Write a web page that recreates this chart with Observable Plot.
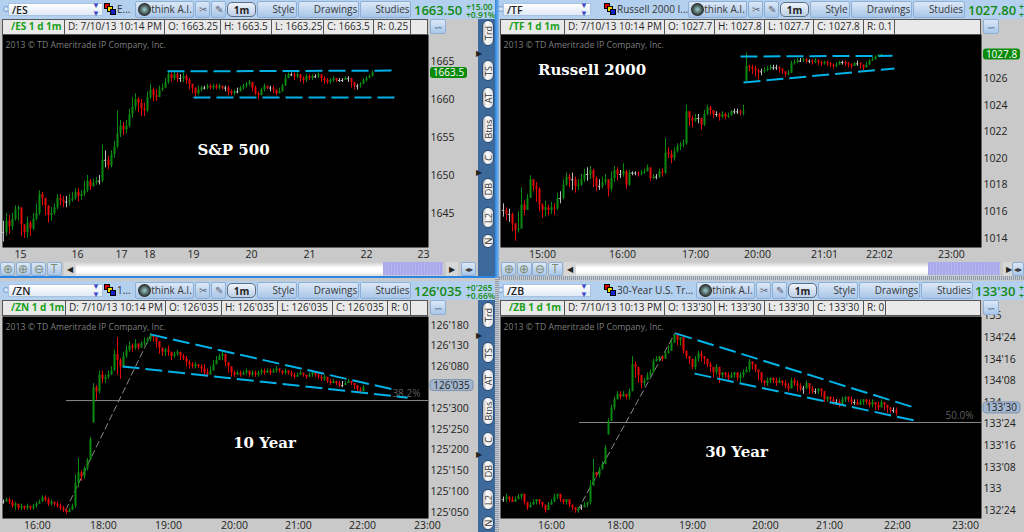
<!DOCTYPE html>
<html><head><meta charset="utf-8">
<script src="https://cdn.jsdelivr.net/npm/d3@7"></script>
<script src="https://cdn.jsdelivr.net/npm/@observablehq/plot@0.6"></script>
<style>
html,body{margin:0;padding:0;background:#c9c9c9;overflow:hidden}
#root{position:relative;width:1024px;height:532px;overflow:hidden;background:#c9c9c9;font-family:"Open Sans",sans-serif;color:#222}
#root div{position:absolute;box-sizing:border-box;white-space:nowrap}
#root svg{position:absolute}
.btn{background:linear-gradient(#dbe8f7,#a9c6e8);border:1px solid #8fb0d4;border-radius:2px;font-size:10px;color:#3a3a3a;line-height:15px;text-align:center}
.cell{background:#e9e9e9;border:1px solid #555;border-left:none;font-size:10px;line-height:13px;padding-left:3px;color:#2a2a2a;overflow:hidden}
.pill{background:linear-gradient(90deg,#bbb,#fff 40%,#ddd);border-radius:6px;font-size:9px;color:#333;text-align:center;border:1px solid #2c4d75}
.pill span{display:block;position:absolute;left:50%;top:50%;transform:translate(-50%,-50%) rotate(-90deg)}
</style></head><body><div id="root"></div>
<script>
// ---------- /ES  (S&P 500) : 3-minute bars ----------
const es_close=[1642.5,1644,1643.25,1644.25,1645.5,1645.75,1643.5,1642.5,1643.75,1643,
1644.25,1645,1647.5,1647,1646,1644.75,1645,1645.75,1647,1646.75,
1646.5,1646.5,1646.75,1647,1647.75,1647.25,1647.5,1648,1649.25,1648.5,
1649,1649.25,1649.25,1652,1652,1651.25,1652.75,1653.75,1655.5,1656.5,
1656,1656.5,1658,1659,1660,1659.5,1658.75,1658.5,1660.25,1661.25,
1660.5,1660.25,1661.25,1661.5,1662.25,1663.25,1662.75,1663.25,1662.75,1662.75,
1663,1662.5,1662,1661.5,1660.75,1661.25,1661.5,1661.5,1661.75,1661.5,
1661.75,1661.5,1661.75,1661.5,1661.5,1661,1660.75,1661,1661,1661.5,
1661.75,1662,1662.25,1661.5,1660.75,1660.5,1661.25,1661.75,1661.5,1661.5,
1661.25,1660.75,1661,1661.75,1662.75,1663.25,1663.25,1663,1663.25,1662.75,
1662.5,1663,1662.75,1663,1663,1663.25,1662.75,1662.5,1662.25,1662.5,
1662.75,1662.5,1662.5,1662.5,1662.75,1662.75,1662.25,1661.75,1661.75,1662,
1662.5,1662.75,1663,1663.5];
const es_high=[1644,1645,1644.75,1645,1646,1646,1645.25,1643.5,1644.5,1644,
1645,1646.25,1648,1647.75,1647,1646,1645.75,1646.25,1647.5,1647.5,
1647.25,1647.25,1647.5,1647.75,1648.25,1648.25,1648,1649.25,1650,1649.5,
1649.5,1649.75,1650,1654,1653.25,1652.5,1653.25,1654.5,1658.5,1657.25,
1657,1657.25,1658.75,1660.25,1660.75,1660.25,1660,1659.5,1661,1662,
1661.5,1661.25,1661.75,1662,1662.75,1663.75,1663.5,1663.75,1663.5,1663.25,
1663.5,1663.25,1662.75,1662,1661.5,1661.75,1661.75,1661.75,1662,1662,
1662,1662,1662,1661.75,1661.75,1661.75,1661.25,1661.25,1661.5,1661.75,
1662,1662.25,1662.5,1662.25,1661.75,1661,1661.5,1662,1661.75,1661.75,
1661.75,1661.25,1661.5,1662,1663.25,1663.5,1663.5,1663.5,1663.5,1663.25,
1663,1663.25,1663.25,1663.25,1663.25,1663.5,1663.25,1663,1662.75,1662.75,
1663,1662.75,1662.75,1662.75,1663,1663,1662.75,1662.25,1662,1662.25,
1662.75,1663,1663.25,1663.75];
const es_low=[1641.25,1642,1642.25,1642.75,1644,1644,1642,1641.75,1641.75,1642,
1642.75,1644,1644.75,1646,1644.75,1643.75,1644,1644.75,1645.5,1646,
1645.75,1645.75,1646,1646.5,1646.75,1646.5,1646.75,1647.25,1647.75,1648,
1648.5,1648.75,1648.75,1649,1651,1650.75,1651,1652.25,1653.5,1655,
1655.25,1655.5,1656.25,1657.5,1658.5,1658.25,1657.75,1657.75,1658.25,1660,
1659.75,1659.75,1660.25,1661,1661.5,1662,1662.25,1662.5,1662.25,1662.25,
1662.25,1662,1661.25,1660.75,1660,1660.5,1661,1661.25,1661.25,1661.25,
1661.25,1661.25,1661.25,1661.25,1661,1660.5,1660.5,1660.5,1660.75,1661,
1661.25,1661.5,1661.75,1661,1660.5,1660,1660.5,1661,1661.25,1661,
1660.75,1660.5,1660.75,1661,1661.75,1662.75,1663,1662.5,1662.75,1662.25,
1662,1662.25,1662.5,1662.5,1662.75,1662.75,1662.25,1662,1662,1662,
1662.25,1662.25,1662.25,1662.25,1662.5,1662.25,1661.5,1661.25,1661.25,1661.5,
1662,1662.25,1662.75,1663];
const es_xticks=[5.67,24.67,39.33,48.67,63.33,82.67,102,121,140];
const es_xlabels=["15","16","17","18","19","20","21","22","23"];
const es_yticks=[1665,1660,1655,1650,1645];
const es_ylabels=["1665","1660","1655","1650","1645"];
const es_trend=[[54.67,1663.7,129.67,1663.8],[63.33,1660.25,130.67,1660.25]];

// ---------- /TF  (Russell 2000) ----------
const tf_close=[1016.1,1015.8,1015.8,1015.1,1014.6,1014.7,1016.5,1016.1,1017,1018.4,
1017.9,1017.7,1016.5,1016.1,1016.3,1016.1,1016.3,1016.2,1017,1017,
1018,1018.6,1018.4,1018.4,1017.9,1018,1018.4,1018.8,1018.8,1019.1,
1018.5,1017.9,1017.9,1018.2,1018.4,1017.7,1018.5,1019.1,1018.8,1018.8,
1019,1018,1018.9,1018.9,1018.9,1018.8,1018.9,1019,1019.3,1018.5,
1018.6,1018.6,1019,1018.9,1020.4,1020.3,1020,1020.5,1020.9,1021,
1021.1,1023.5,1023,1022.8,1023,1023,1022.5,1023.3,1023.8,1023.6,
1023.3,1023.3,1023.1,1023.3,1023.1,1023.2,1023.5,1023.5,1023.5,1023.4,
1023.5,1026.9,1026.8,1026.7,1026.6,1026.5,1026.5,1026.6,1026.7,1026.8,
1026.8,1026.8,1026.7,1026.5,1026.3,1026.4,1027.1,1027.2,1027.3,1027.3,
1027.4,1027.3,1027.3,1027.2,1027.3,1027.2,1027.1,1027.2,1027.1,1027,
1026.9,1027,1027.2,1027.2,1027.1,1027,1026.9,1027.1,1027.1,1027,
1026.8,1027,1027.3,1027.4,1027.6,1027.7,1027.8];
const tf_high=[1016.6,1016.3,1016.2,1015.9,1015.1,1016,1017.8,1016.8,1017.3,1018.7,
1018.4,1018.2,1017.8,1016.6,1016.8,1016.5,1016.7,1016.6,1017.4,1017.5,
1018.4,1018.9,1018.8,1018.9,1018.6,1018.4,1018.8,1019.2,1019.3,1019.4,
1019.2,1018.6,1018.4,1018.6,1018.8,1018.4,1019,1019.4,1019.3,1019.1,
1019.6,1019.1,1019.1,1019,1019,1019,1019.1,1019.2,1019.5,1019.2,
1018.8,1018.8,1019.2,1019.2,1021.5,1020.8,1020.6,1020.8,1021.1,1021.2,
1021.4,1024,1023.5,1023.2,1023.3,1023.3,1023,1023.6,1024,1023.9,
1023.6,1023.5,1023.4,1023.5,1023.4,1023.4,1023.6,1023.7,1023.7,1023.6,
1024,1027.9,1027,1027,1026.9,1026.7,1026.7,1026.8,1026.9,1027,
1027,1027,1026.9,1026.7,1026.5,1026.6,1027.3,1027.4,1027.5,1027.5,
1027.5,1027.5,1027.4,1027.4,1027.5,1027.4,1027.3,1027.3,1027.3,1027.2,
1027.1,1027.2,1027.3,1027.3,1027.3,1027.2,1027.1,1027.2,1027.3,1027.2,
1027,1027.2,1027.4,1027.6,1027.7,1027.8,1027.8];
const tf_low=[1015.6,1015.3,1015.2,1014.5,1013.8,1014.4,1015.8,1015.7,1016.6,1017.4,
1017.5,1016.7,1016,1015.5,1015.6,1015.7,1015.8,1015.7,1016.1,1016.6,
1016.9,1017.9,1017.8,1017.6,1017.4,1017.6,1017.9,1018.2,1018.3,1018.4,
1017.8,1017.5,1017.6,1017.7,1018,1017.1,1017.5,1018.2,1018.3,1018.5,
1018.6,1017.7,1017.9,1018.7,1018.7,1018.6,1018.7,1018.8,1019,1018.3,
1018.4,1018.4,1018.5,1018.6,1018.8,1020,1019.6,1019.8,1020.4,1020.6,
1020.8,1021,1022.4,1022.3,1022.7,1022.6,1022.1,1022.4,1023.2,1023.2,
1023,1023.1,1022.8,1023,1022.9,1023,1023.2,1023.3,1023.3,1023.2,
1023.2,1025.8,1026.5,1026.3,1026.1,1025.9,1026.2,1026.4,1026.5,1026.6,
1026.6,1026.6,1026.4,1026.3,1026.1,1026.2,1026.4,1027,1027.1,1027.2,
1027.2,1027.1,1027.1,1027,1027.1,1027,1026.9,1027,1026.9,1026.8,
1026.7,1026.8,1027,1027,1026.9,1026.8,1026.7,1026.9,1026.9,1026.7,
1026.6,1026.8,1027,1027.3,1027.4,1027.6,1027.7];
const tf_gaps={81:1025.8};
const tf_xticks=[13,39.67,64,84.67,107,125.33,149.33];
const tf_xlabels=["15:00","16:00","17:00","20:00","21:01","22:02","23:00"];
const tf_yticks=[1026,1024,1022,1020,1018,1016,1014];
const tf_ylabels=["1026","1024","1022","1020","1018","1016","1014"];
const tf_trend=[[79,1027.65,129.67,1027.7],[80,1025.7,130.33,1026.75]];

// ---------- /ZN  (10 Year) : values are 32nds above 125 ----------
const zn_close=[7.5,8,7.5,6.5,7,6,6.5,6,6.5,6,
6.5,7,7.5,8.5,8,7,7.5,7,6.5,6,
5.5,5,5.5,6.5,12,14.5,13.5,15.5,17.5,22.5,
35,34,38,37,37.5,38,39,43,41.5,40,
42.5,44,45,44.5,45.5,44.5,45.5,46,46.5,47.5,
47,46,44.5,43.5,44,43.5,42.5,43,43.5,42.5,
42,41,40.5,40,40.5,40,39.5,38.5,38,39,
40.5,41.5,42.5,43,41,40,38.5,38,38.5,38,
38.5,39,38,38.5,38,38.5,39,38.5,39,38.5,
39,39.5,39,38.5,39,38.5,38,37.5,38,38.5,
38,37.5,38,38.5,38,37.5,37,37.5,36.5,36,
36.5,36,35.5,35.5,36,36.5,36,35.5,34.5,34,
35];
const zn_high=[8,8.5,8.5,8,7.5,7,7,6.5,7,6.5,
7,7.5,8,9,9,8.5,8,7.5,7.5,7,
6.5,6,6,7,14,18,15,16,18,23,
36,35.5,39,39,38,39,40,44,47,42,
43.5,45,46,45.5,46.5,45.5,46,47,47,48,
47.5,47,46,44.5,44.5,45,43.5,43.5,44,43.5,
43,42.5,41.5,41,41,40.5,40.5,40.5,39.5,40,
41.5,42.5,43,43.5,42.5,41,40,39,39,39,
39,39.5,38.5,39,39,39,39.5,39.5,39.5,39.5,
39.5,40,39.5,39,39.5,39,39,38.5,38.5,39,
38.5,38,38.5,39,38.5,38.5,38,38,37,37,
37,36.5,36.5,36.5,36.5,37,36.5,36,35.5,35,
35.5];
const zn_low=[7,7.5,7,6,5.5,5.5,5.5,5.5,5.5,5.5,
5.5,6,7,8,7.5,6.5,6.5,6.5,6,5.5,
5,4.5,5,5.5,6,11,12.5,13,15,17.5,
26.5,32,33.5,36,36,37,38,39,38,37,
40,42,43.5,43.5,44,44,44.5,45,45.5,46,
46,44.5,43,42.5,42.5,42.5,41.5,42,42.5,41.5,
41.5,40,39.5,39.5,39.5,39.5,38.5,38,37.5,38.5,
39,40.5,42,41.5,40,38.5,37.5,37.5,38,37.5,
38,38,37.5,37.5,37.5,37.5,38,38,38.5,38,
38.5,38.5,38.5,38,38,38,37.5,37,37.5,38,
37.5,37,37.5,37.5,37.5,37,36.5,36.5,36,35.5,
36,35.5,35,35,35.5,36,35.5,34.5,34,33.5,
34.5];
const zn_gaps={30:26.5};
const zn_xticks=[11.33,33.33,55,77,98.33,119.67,141.33];
const zn_xlabels=["16:00","18:00","19:00","20:00","21:00","22:00","23:00"];
const zn_yticks=[50,45,40,30,25,20,15,10,5];
const zn_ylabels=["126'180","126'130","126'080","125'300","125'250","125'200","125'150","125'100","125'050"];
const zn_trend=[[49,47.8,129.67,34.6],[39.67,40.1,134.67,32.6]];
const zn_fib={level:31.9,from:21,label:"38.2%",labelBar:134.3,labelValue:33.6,diag:[20.67,5.5,49,47.5]};

// ---------- /ZB  (30 Year) : values are 32nds above 132 ----------
const zb_close=[28,29,28,27,28,29,30,27,25,26,
27,28,27,26,24,26,27,29,30,28,
27,28,26,25,24,25,25,26,27,33,
38,37,39,41,47,57,62,65,67,66,
67,66,68,78,77,74,71,72,74,75,
79,80,81,80,82,83,86,89,87,88,
83,81,80,77,80,82,81,80,78,77,
75,77,74,75,74,73,74,75,73,74,
75,76,79,78,76,75,72,71,72,73,
72,71,72,71,70,69,72,71,70,69,
69,71,69,68,68,69,68,65,66,65,
64,64,63,65,66,65,64,64,63,64,
65,64,63,64,63,62,64,63,62,61,
61,60];
const zb_high=[29,30,29,29,29,30,30,29,27,27,
28,28,28,27,26,27,28,30,30,29,
28,28,27,26,25,25,26,27,27,35,
43,38,40,42,48,58,63,66,68,68,
68,67,69,81,79,76,72,73,75,76,
80,81,81,81,83,85,87,89,88,88,
87,83,81,80,81,83,83,81,80,79,
77,78,76,75,75,75,75,75,75,75,
76,77,80,79,78,76,75,72,73,73,
73,73,73,72,72,71,73,73,72,71,
70,72,71,70,69,69,69,68,66,66,
66,65,65,66,66,66,66,65,65,65,
65,65,65,65,64,64,65,64,63,62,
62,62];
const zb_low=[27,27,27,27,27,28,28,26,24,25,
26,26,26,25,23,24,26,27,28,27,
26,26,25,24,23,23,24,25,25,26,
33,36,36,39,41,52,57,61,65,65,
66,65,65,68,73,71,69,70,72,73,
75,79,79,79,80,82,83,86,85,85,
82,80,78,76,76,79,79,78,77,75,
73,74,71,73,73,72,73,73,72,71,
73,75,75,76,75,72,71,70,70,71,
71,70,71,70,69,68,70,70,68,68,
67,69,67,67,67,67,66,64,64,64,
63,63,62,64,64,64,63,63,63,63,
63,63,62,62,61,61,62,61,60,60,
60,59];
const zb_gaps={35:52};
const zb_xticks=[16,39,63,87.33,108.67,131.33,154];
const zb_xlabels=["16:00","18:00","19:00","20:00","21:00","22:00","23:00"];
const zb_yticks=[96,88,80,72,64,56,48,40,32,24];
const zb_ylabels=["135","134'24","134'16","134'08","134","133'24","133'16","133'08","133","132'24"];
const zb_trend=[[57.33,89.6,137,62.1],[63.67,74.7,137.33,57.3]];
const zb_fib={level:56.6,from:25.33,label:"50.0%",labelBar:152,labelValue:59,diag:[24.67,24,57.33,90]};

const GREEN="#0b8a12",RED="#e30a0a",GREY="#bdbdbd",CYAN="#00b2e6";
const root=document.getElementById("root");

function el(x,y,w,h,cls,html,style){
  const d=document.createElement("div");
  d.style.cssText=`left:${x}px;top:${y}px;width:${w}px;height:${h}px;${style||""}`;
  if(cls)d.className=cls;
  if(html!=null)d.innerHTML=html;
  root.appendChild(d);return d;
}
function candles(close,high,low,gaps,tol){
  return close.map((c,i)=>{
    const o=(gaps&&gaps[i]!==undefined)?gaps[i]:(i?close[i-1]:c);
    return{bar:i,open:o,close:c,high:high[i],low:low[i],
      color:Math.abs(c-o)<=tol?GREY:(c>o?GREEN:RED),doji:Math.abs(c-o)<=tol};
  });
}
function chip(value,label,bg,fg,w){
  return (index,{y},values,dims)=>{
    const g=d3.create("svg:g");
    const x=dims.width-dims.marginRight+2,cy=y(value);
    g.append("rect").attr("x",x).attr("y",cy-5.5).attr("width",w).attr("height",11).attr("rx",3).attr("fill",bg).attr("stroke",bg==="#0a8a0a"?"none":"#7f93ad");
    g.append("text").attr("x",x+w/2).attr("y",cy+3.6).attr("text-anchor","middle").attr("fill",fg).attr("font-size","10px").text(label);
    return g.node();
  };
}
function chart(c){
  const rows=candles(c.close,c.high,c.low,c.gaps,c.tol);
  const xm=new Map(c.xticks.map((t,i)=>[t,c.xlabels[i]]));
  const ym=new Map(c.yticks.map((t,i)=>[t,c.ylabels[i]]));
  const marks=[
    Plot.frame({fill:"#000",stroke:"none"}),
    Plot.axisX({ticks:c.xticks,tickFormat:d=>xm.get(d),tickSize:0,tickPadding:3,anchor:"bottom",label:null,fill:"#222"}),
    Plot.axisY({ticks:c.yticks,tickFormat:d=>ym.get(d),tickSize:0,tickPadding:2,anchor:"right",label:null,fill:"#222"}),
    Plot.text(["2013 © TD Ameritrade IP Company, Inc."],{frameAnchor:"top-left",dx:3,dy:7,fill:"#7d7d7d",fontSize:8.7})
  ];
  if(c.fib){
    marks.push(Plot.ruleY([c.fib],{y:"level",x1:"from",x2:c.xDomain[1],stroke:"#8a8a8a",strokeWidth:1}));
    marks.push(Plot.link([c.fib.diag],{x1:d=>d[0],y1:d=>d[1],x2:d=>d[2],y2:d=>d[3],stroke:"#8a8a8a",strokeWidth:1,strokeDasharray:"7,3"}));
    marks.push(Plot.text([c.fib],{x:"labelBar",y:"labelValue",text:"label",fill:"#5f5f5f",fontSize:10}));
  }
  marks.push(
    Plot.ruleX(rows,{x:"bar",y1:"low",y2:"high",stroke:"color",strokeWidth:1}),
    Plot.ruleX(rows.filter(d=>!d.doji),{x:"bar",y1:"open",y2:"close",stroke:"color",strokeWidth:2}),
    Plot.ruleY(rows.filter(d=>d.doji),{y:"close",x1:d=>d.bar-0.4,x2:d=>d.bar+0.4,stroke:"color",strokeWidth:1}),
    Plot.link(c.trend,{x1:d=>d[0],y1:d=>d[1],x2:d=>d[2],y2:d=>d[3],stroke:CYAN,strokeWidth:2,strokeDasharray:"17,6"}),
    Plot.text([c.title],{x:c.titleBar,y:c.titleValue,text:d=>d,fill:"#fff",fontFamily:"DejaVu Serif",fontWeight:"bold",fontSize:c.titleSize}),
    chip(c.chip[0],c.chip[1],c.chip[2],c.chip[3],c.chip[4])
  );
  const svg=Plot.plot({
    width:c.w+c.mr,height:c.h+15,marginLeft:0,marginRight:c.mr,marginTop:0,marginBottom:15,
    x:{type:"linear",domain:c.xDomain,axis:null},
    y:{type:"linear",domain:c.yDomain,axis:null},
    color:{type:"identity"},
    style:{background:"transparent",fontFamily:"Open Sans",fontSize:"10.5px",color:"#222",overflow:"visible"},
    marks
  });
  svg.style.left=c.left+"px";svg.style.top=c.top+"px";
  root.appendChild(svg);
}

// ---------- window chrome ----------
function chrome(p){
  const t=p.top;
  el(p.tb[0],t,p.tb[1]-p.tb[0],19,"",null,"background:#b4d0ef");
  el(p.inputX+1-6,t+6,6,6,"",null,"border-radius:50%;background:#d7e6f7;border:1px solid #6d9ad0");
  el(p.inputX,t+3,p.inputW,13,"",`<span style="position:absolute;left:3px;top:0;font-size:10.5px;font-weight:600;line-height:13px">${p.sym}</span>`,"background:linear-gradient(#fff,#dfe9f6);border:1px solid #a8c2e0");
  el(p.inputX+p.inputW-12,t+4,11,11,"",'<span style="position:absolute;left:1px;top:-3px;font-size:8px;color:#3b49c7;line-height:8px">▼<br>▼</span>');
  el(p.sq,t+3,6,6,"",null,"background:#e00000;border:1px solid #000");
  el(p.sq+3,t+6,6,6,"",null,"background:#e8d800;border:1px solid #000");
  el(p.sq+6,t+9,6,6,"",null,"background:#1420c8;border:1px solid #000");
  el(p.sq+13,t+2,80,15,"",p.name,"font-size:10px;line-height:15px;color:#333");
  const b=p.btn;
  el(b[0],t+1,b[1]-b[0],17,"btn",'<span style="position:absolute;left:2px;top:1px;width:13px;height:13px;border-radius:50%;background:radial-gradient(#9cc,#222 70%)"></span><span style="margin-left:14px">think A.I.</span>');
  el(b[1]+1,t+1,15,17,"btn",'<span style="color:#667">✂</span>');
  el(b[1]+17,t+1,15,17,"btn",'<span style="color:#667">✎</span>');
  el(b[2],t+2,b[3]-b[2],15,"",'<b>1m</b>',"background:linear-gradient(#eef3fa,#bcd0e8);border:1px solid #5f6f83;border-radius:5px;font-size:10px;line-height:14px;text-align:center");
  el(b[3]+1,t+1,b[4]-b[3]-1,17,"btn",'<span style="margin-left:13px">Style</span>');
  el(b[4]+1,t+1,b[5]-b[4]-1,17,"btn",'<span style="margin-left:14px">Drawings</span>');
  el(b[5]+1,t+1,b[6]-b[5]-1,17,"btn",'<span style="margin-left:14px">Studies</span>');
  el(p.priceX,t+2,50,16,"",p.price,"color:#128a12;font-size:13px;font-weight:600;line-height:16px");
  el(p.chgX,t+2,p.chgW,9,"",p.chg1,"color:#128a12;font-size:8.5px;font-weight:600;line-height:9px");
  el(p.chgX,t+10,p.chgW,9,"",p.chg2,"color:#128a12;font-size:8.5px;font-weight:600;line-height:9px");
  const e=p.cells;
  e.forEach((x,i)=>{
    if(i===e.length-1)return;
    const html=i===0?`<b style="color:#19a019;margin-left:5px">${p.info[0]}</b>`:(p.info[i]||"");
    el(x,t+19,e[i+1]-x,16,"cell",html,i===0?"border-left:1px solid #555":"");
  });
  el(p.icon,t+19,16,15,"btn",'<span style="color:#36688f">∽</span>');
}
function strip(x,y,h,offs){
  el(x,y,17,h,"",null,"background:#3d6a9b");
  const labs=[["Trd",20,26],["TS",60,21],["AT",87,22],["Btns",115,28],["C",150,15],["DB",178,22],["L2",207,21],["N",234,14]];
  labs.forEach(([s,py,ph])=>{ if(offs+py+ph<=536) el(x+4,offs+py,12,ph,"pill",`<span>${s}</span>`); });
  el(x-2,offs+53-5,8,10,"",'<span style="font-size:8px;line-height:10px;position:absolute;top:0">▶</span>');
  el(x-2,offs+172-5,8,10,"",'<span style="font-size:8px;line-height:10px;position:absolute;top:0">▶</span>');
}
function scrollRow(x0,trackX,trackEnd,purpleX,purpleEnd,right){
  const y=262,h=14;
  ["⊕","⊕","⊖","T"].forEach((s,i)=>el(x0+i*15.5,y,15,h,"btn",s,"line-height:12px;font-size:12px;color:#7d8c6e"));
  el(trackX-12,y,12,h,"",'<span style="position:absolute;left:3px;top:1px;font-size:8px">◀</span>',"background:#d7d7d7");
  el(trackX,y,trackEnd-trackX,h,"",null,"background:linear-gradient(#c9c9c9,#fff 40%,#fff 70%,#ddd)");
  el(purpleX,y,purpleEnd-purpleX,h-1,"",null,"background:repeating-linear-gradient(90deg,#a9a8ea,#a9a8ea 2px,#b7b6ee 2px,#b7b6ee 3px)");
  el(purpleEnd+3,y,12,h,"",'<span style="position:absolute;left:3px;top:1px;font-size:8px">▶</span>',"background:#d7d7d7");
  el(right,y,Math.min(15,1024-right),h,"btn","◂▸","line-height:12px;font-size:8px");
}

const panels=[
 {top:0,tb:[0,495],inputX:8,inputW:95,sym:"/ES",sq:104,name:"E...",btn:[135,194,227,256,297,359,411],priceX:414,price:"1663.50",chgX:466,chgW:29,chg1:"+15.00",chg2:"+0.91%",
  cells:[2,65,165,221,272,324,374,411,428],info:["/ES 1 d 1m","D: 7/10/13 10:14 PM","O: 1663.25","H: 1663.5","L: 1663.25","C: 1663.5","R: 0.25",""],icon:430},
 {top:0,tb:[499,1024],inputX:503,inputW:88,sym:"/TF",sq:604,name:"Russell 2000 I...",btn:[688,747,780,809,850,912,965],priceX:968,price:"1027.80",chgX:1019,chgW:5,chg1:"+",chg2:"+",
  cells:[500,565,665,715,765,814,864,895,981],info:["/TF 1 d 1m","D: 7/10/13 10:14 PM","O: 1027.7","H: 1027.8","L: 1027.7","C: 1027.8","R: 0.1",""],icon:983},
 {top:281,tb:[0,495],inputX:8,inputW:95,sym:"/ZN",sq:104,name:"1...",btn:[135,194,227,256,297,359,411],priceX:414,price:"126'035",chgX:466,chgW:29,chg1:"+0'265",chg2:"+0.66%",
  cells:[2,66,166,222,278,333,388,411,428],info:["/ZN 1 d 1m","D: 7/10/13 10:14 PM","O: 126'035","H: 126'035","L: 126'035","C: 126'035","R: 0",""],icon:430},
 {top:281,tb:[499,1024],inputX:503,inputW:88,sym:"/ZB",sq:604,name:"30-Year U.S. Tr...",btn:[696,755,788,817,858,920,973],priceX:975,price:"133'30",chgX:1019,chgW:5,chg1:"+",chg2:"+",
  cells:[500,565,665,715,765,814,864,886,981],info:["/ZB 1 d 1m","D: 7/10/13 10:13 PM","O: 133'30","H: 133'30","L: 133'30","C: 133'30","R: 0",""],icon:983}
];

// ---------- the four charts ----------
chart({left:2,top:34,w:426,h:213,mr:50,close:es_close,high:es_high,low:es_low,tol:0,
  xDomain:[-1/3,(426-1)/3],yDomain:[1640.53,1668.55],xticks:es_xticks,xlabels:es_xlabels,yticks:es_yticks,ylabels:es_ylabels,trend:es_trend,
  title:"S&P 500",titleBar:76.67,titleValue:1653.3,titleSize:15,chip:[1663.5,"1663.5","#0a8a0a","#fff",37]});
chart({left:500,top:34,w:481,h:213,mr:43,close:tf_close,high:tf_high,low:tf_low,gaps:tf_gaps,tol:0.05,
  xDomain:[-1,(481-3)/3],yDomain:[1013.32,1029.3],xticks:tf_xticks,xlabels:tf_xlabels,yticks:tf_yticks,ylabels:tf_ylabels,trend:tf_trend,
  title:"Russell 2000",titleBar:29.5,titleValue:1026.6,titleSize:15,chip:[1027.8,"1027.8","#0a8a0a","#fff",37]});
chart({left:2,top:316,w:426,h:202,mr:50,close:zn_close,high:zn_high,low:zn_low,gaps:zn_gaps,tol:0,fib:zn_fib,
  xDomain:[-1/3,(426-1)/3],yDomain:[3.56,52.1],xticks:zn_xticks,xlabels:zn_xlabels,yticks:zn_yticks,ylabels:zn_ylabels,trend:zn_trend,
  title:"10 Year",titleBar:87,titleValue:21.6,titleSize:15,chip:[35.5,"126'035","#a3b6cf","#222",43]});
chart({left:500,top:316,w:481,h:202,mr:43,close:zb_close,high:zb_high,low:zb_low,gaps:zb_gaps,tol:0,fib:zb_fib,
  xDomain:[-1,(481-3)/3],yDomain:[21.04,95.85],xticks:zb_xticks,xlabels:zb_xlabels,yticks:zb_yticks,ylabels:zb_ylabels,trend:zb_trend,
  title:"30 Year",titleBar:77.67,titleValue:45.5,titleSize:15,chip:[62,"133'30","#a3b6cf","#222",37]});

panels.forEach(chrome);
strip(478,19,257,0);
strip(478,300,232,282);
el(495,0,4,277,"",null,"background:linear-gradient(90deg,#2a86e0,#7fb6ee)");
el(495,277,4,255,"",null,"background:repeating-linear-gradient(0deg,#8b9bb0,#8b9bb0 1px,#c9c9c9 1px,#c9c9c9 2px)");
el(0,276,495,2,"",null,"background:#2a86e0");
el(499,276,525,4,"",null,"background:repeating-linear-gradient(90deg,#8b9bb0,#8b9bb0 1px,#c9c9c9 1px,#c9c9c9 2px)");
scrollRow(0,76,383,383,443,461);
scrollRow(501,576,928,928,1000,1012);
</script></body></html>
